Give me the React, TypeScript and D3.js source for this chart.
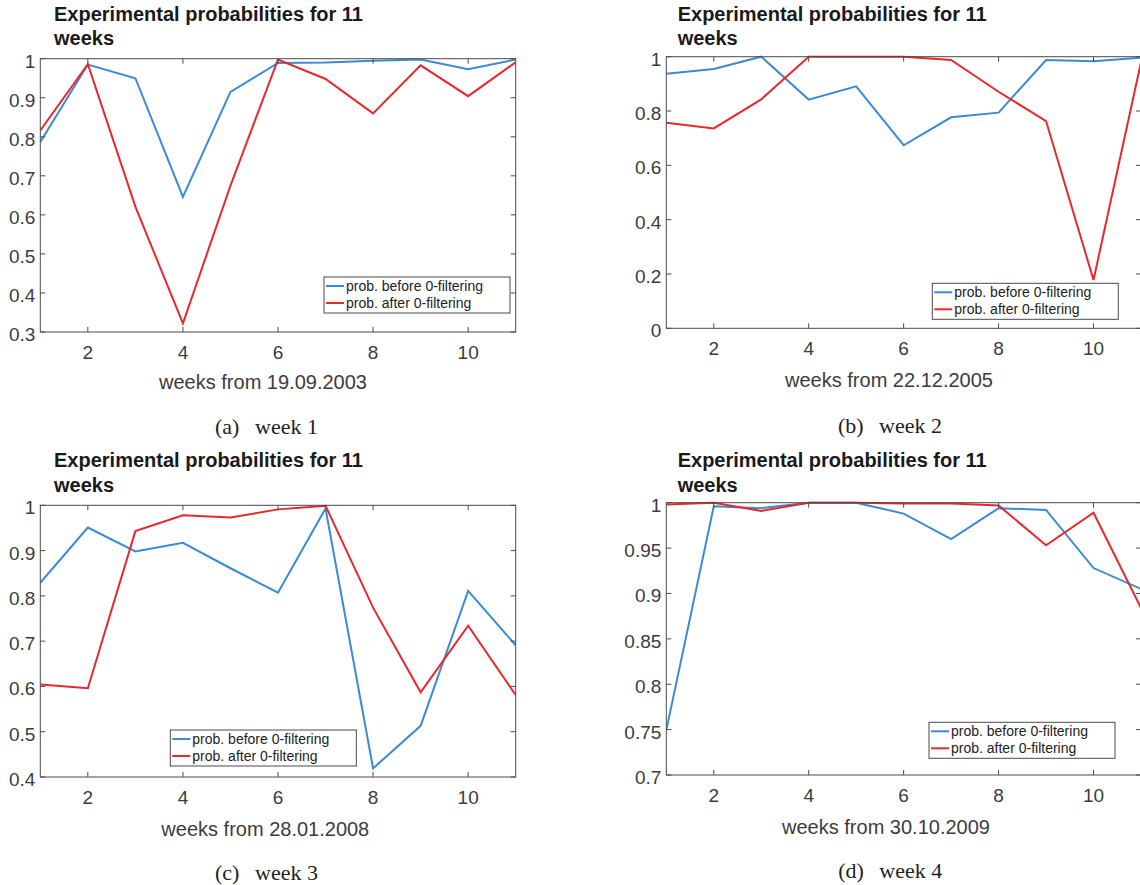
import { useEffect, useRef } from "react";
import * as d3 from "d3";

const WEEKS = [1, 2, 3, 4, 5, 6, 7, 8, 9, 10, 11];
const X_TICKS = [2, 4, 6, 8, 10];

const BEFORE_A = [0.787, 0.985, 0.95, 0.646, 0.915, 0.989, 0.99, 0.995, 0.998, 0.973, 0.998];
const AFTER_A = [0.816, 0.986, 0.621, 0.322, 0.675, 0.998, 0.948, 0.86, 0.983, 0.904, 0.991];

const BEFORE_B = [0.937, 0.955, 1.0, 0.842, 0.891, 0.674, 0.777, 0.794, 0.988, 0.983, 0.996];
const AFTER_B = [0.757, 0.736, 0.843, 1.0, 1.0, 1.0, 0.988, 0.871, 0.763, 0.178, 0.98];

const BEFORE_C = [0.829, 0.951, 0.898, 0.917, 0.861, 0.807, 0.993, 0.419, 0.513, 0.811, 0.691];
const AFTER_C = [0.604, 0.596, 0.943, 0.978, 0.973, 0.991, 0.999, 0.774, 0.587, 0.734, 0.581];

const BEFORE_D = [0.7495, 0.996, 0.994, 1.0, 1.0, 0.988, 0.96, 0.994, 0.992, 0.928, 0.905];
const AFTER_D = [0.998, 1.0, 0.991, 1.0, 1.0, 0.999, 0.999, 0.997, 0.953, 0.989, 0.884];

const START_DATES = ["19.09.2003", "22.12.2005", "28.01.2008", "30.10.2009"];
const CAPTION_TAGS = ["(a)", "(b)", "(c)", "(d)"];
const CAPTION_TEXTS = ["week 1", "week 2", "week 3", "week 4"];
const Y_DOMAINS = [[0.3, 1], [0, 1], [0.4, 1], [0.7, 1]];
const Y_TICKS = [
  [0.3, 0.4, 0.5, 0.6, 0.7, 0.8, 0.9, 1],
  [0, 0.2, 0.4, 0.6, 0.8, 1],
  [0.4, 0.5, 0.6, 0.7, 0.8, 0.9, 1],
  [0.7, 0.75, 0.8, 0.85, 0.9, 0.95, 1],
];
const LEGEND_LABELS = ["prob. before 0-filtering", "prob. after 0-filtering"];

const SERIES = [
  [BEFORE_A, AFTER_A],
  [BEFORE_B, AFTER_B],
  [BEFORE_C, AFTER_C],
  [BEFORE_D, AFTER_D],
];

// panel geometry (pixels)
const LAYOUT = [
  { left: 40.3, right: 515.7, top: 58.7, bottom: 332, titleX: 54, titleY: 20.7, xlX: 263, xlY: 389, lgX: 324, lgY: 277, tagX: 215, capX: 255, capY: 434 },
  { left: 666.3, right: 1141, top: 56.7, bottom: 328.3, titleX: 677.7, titleY: 20.7, xlX: 889, xlY: 387, lgX: 932.3, lgY: 283.3, tagX: 838, capX: 879, capY: 433 },
  { left: 40.3, right: 515.7, top: 505.3, bottom: 777, titleX: 54, titleY: 467.4, xlX: 265.3, xlY: 836, lgX: 170.3, lgY: 730, tagX: 215, capX: 255, capY: 880 },
  { left: 666.3, right: 1141, top: 502.7, bottom: 775, titleX: 677.7, titleY: 467.4, xlX: 886, xlY: 833.7, lgX: 929, lgY: 722.3, tagX: 838.3, capX: 879.3, capY: 878 },
];

const BLUE = "#3a8ad6";
const RED = "#e8282a";
const AXIS = "#4a4a4a";
const TEXT = "#3c3c3c";
const SANS = "'Liberation Sans', Arial, sans-serif";
const SERIF = "'Liberation Serif', 'Times New Roman', serif";

const fmt = (v: number) => String(+v.toFixed(2));

export default function App() {
  const svgRef = useRef<SVGSVGElement>(null);

  useEffect(() => {
    const svg = d3.select(svgRef.current);
    svg.selectAll("*").remove();

    LAYOUT.forEach((L, i) => {
      const x = d3.scaleLinear().domain([1, 11]).range([L.left, L.right]);
      const y = d3.scaleLinear().domain(Y_DOMAINS[i]).range([L.bottom, L.top]);
      const g = svg.append("g");

      // title
      const title = g
        .append("text")
        .attr("x", L.titleX)
        .attr("y", L.titleY)
        .attr("font-family", SANS)
        .attr("font-weight", "bold")
        .attr("font-size", 20)
        .attr("fill", "#1a1a1a");
      title.append("tspan").attr("x", L.titleX).text("Experimental probabilities for 11");
      title.append("tspan").attr("x", L.titleX).attr("dy", 24.3).text("weeks");

      // clipped lines
      const clipId = `clip-${i}`;
      g.append("clipPath")
        .attr("id", clipId)
        .append("rect")
        .attr("x", L.left)
        .attr("y", L.top - 2)
        .attr("width", L.right - L.left)
        .attr("height", L.bottom - L.top + 4);

      const line = d3
        .line<number>()
        .x((_, k) => x(WEEKS[k]))
        .y((d) => y(d));

      [BLUE, RED].forEach((c, s) => {
        g.append("path")
          .attr("d", line(SERIES[i][s]))
          .attr("fill", "none")
          .attr("stroke", c)
          .attr("stroke-width", 2)
          .attr("clip-path", `url(#${clipId})`);
      });

      // frame
      g.append("rect")
        .attr("x", L.left)
        .attr("y", L.top)
        .attr("width", L.right - L.left)
        .attr("height", L.bottom - L.top)
        .attr("fill", "none")
        .attr("stroke", AXIS)
        .attr("stroke-width", 1);

      // ticks (inward, all four sides)
      const tl = 5;
      X_TICKS.forEach((t) => {
        g.append("line").attr("x1", x(t)).attr("x2", x(t)).attr("y1", L.bottom).attr("y2", L.bottom - tl).attr("stroke", AXIS);
        g.append("line").attr("x1", x(t)).attr("x2", x(t)).attr("y1", L.top).attr("y2", L.top + tl).attr("stroke", AXIS);
        g.append("text")
          .attr("x", x(t))
          .attr("y", L.bottom + 27)
          .attr("text-anchor", "middle")
          .attr("font-family", SANS)
          .attr("font-size", 19)
          .attr("fill", TEXT)
          .text(fmt(t));
      });
      Y_TICKS[i].forEach((t) => {
        g.append("line").attr("x1", L.left).attr("x2", L.left + tl).attr("y1", y(t)).attr("y2", y(t)).attr("stroke", AXIS);
        g.append("line").attr("x1", L.right).attr("x2", L.right - tl).attr("y1", y(t)).attr("y2", y(t)).attr("stroke", AXIS);
        g.append("text")
          .attr("x", L.left - 5)
          .attr("y", y(t) + 9)
          .attr("text-anchor", "end")
          .attr("font-family", SANS)
          .attr("font-size", 19)
          .attr("fill", TEXT)
          .text(fmt(t));
      });

      // x label
      g.append("text")
        .attr("x", L.xlX)
        .attr("y", L.xlY)
        .attr("text-anchor", "middle")
        .attr("font-family", SANS)
        .attr("font-size", 20)
        .attr("fill", TEXT)
        .text(`weeks from ${START_DATES[i]}`);

      // legend
      const lg = g.append("g").attr("transform", `translate(${L.lgX},${L.lgY})`);
      lg.append("rect")
        .attr("width", 186)
        .attr("height", 36)
        .attr("fill", "#fff")
        .attr("stroke", AXIS)
        .attr("stroke-width", 1);
      [BLUE, RED].forEach((c, s) => {
        const ly = 9 + s * 17;
        lg.append("line").attr("x1", 2).attr("x2", 20).attr("y1", ly).attr("y2", ly).attr("stroke", c).attr("stroke-width", 2);
        lg.append("text")
          .attr("x", 22)
          .attr("y", ly + 5)
          .attr("font-family", SANS)
          .attr("font-size", 14)
          .attr("fill", "#222")
          .text(LEGEND_LABELS[s]);
      });

      // caption
      g.append("text")
        .attr("x", L.tagX)
        .attr("y", L.capY)
        .attr("font-family", SERIF)
        .attr("font-size", 22)
        .attr("fill", "#222")
        .text(CAPTION_TAGS[i]);
      g.append("text")
        .attr("x", L.capX)
        .attr("y", L.capY)
        .attr("font-family", SERIF)
        .attr("font-size", 22)
        .attr("fill", "#222")
        .text(CAPTION_TEXTS[i]);
    });
  }, []);

  return (
    <svg
      ref={svgRef}
      width={1140}
      height={885}
      style={{ position: "absolute", left: 0, top: 0, display: "block", background: "#fff" }}
    />
  );
}
